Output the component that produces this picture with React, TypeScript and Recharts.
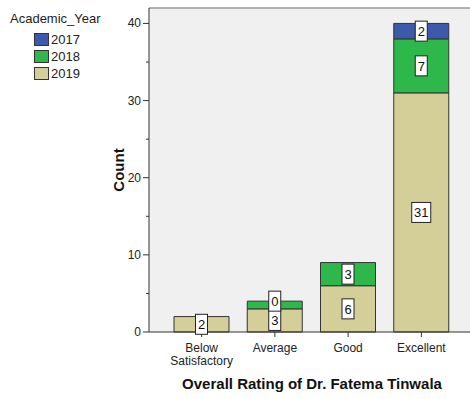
import { Bar, BarChart, CartesianGrid, LabelList, ReferenceLine, XAxis, YAxis } from 'recharts'

const categories = ['Below Satisfactory', 'Average', 'Good', 'Excellent']
const years = ['2017', '2018', '2019']
const counts2017 = [null, 0, null, 2]
const counts2018 = [null, 1, 3, 7]
const counts2019 = [2, 3, 6, 31]
// in the original the "1" of Average/2018 is hidden behind the 0 label
const hiddenLabels2018 = ['Average']
const yTicks = [0, 5, 10, 15, 20, 25, 30, 35, 40]

const colors: Record<string, string> = {
  '2017': '#3D59AB',
  '2018': '#2EB84C',
  '2019': '#D4CF98',
}

const data = categories.map((name, i) => ({
  name,
  y2017: counts2017[i],
  y2018: counts2018[i],
  y2019: counts2019[i],
  lab2018: hiddenLabels2018.includes(name) ? null : counts2018[i],
  // a zero-height 2017 segment gets no rect, so its label is hung on top of the 2018 one
  zero2017: counts2017[i] === 0 ? 0 : null,
}))

const FONT = '"Liberation Sans", Arial, sans-serif'

const ValueBox = ({ x, y, width, height, value, atTop }: any) => {
  if (value === null || value === undefined || value === '') return null
  const cx = x + width / 2
  const cy = atTop ? y : y + height / 2
  const text = String(value)
  const w = text.length * 7 + 5
  return (
    <g>
      <rect x={cx - w / 2} y={cy - 10} width={w} height={20} fill="#fff" stroke="#222" strokeWidth={1} />
      <text x={cx} y={cy + 5} textAnchor="middle" fontSize={13} fontFamily={FONT} fill="#111">
        {text}
      </text>
    </g>
  )
}

const XTick = ({ x, y, payload }: any) => {
  const lines = String(payload.value).split(' ')
  return (
    <g>
      <line x1={x} x2={x} y1={y} y2={y + 5} stroke="#333" />
      {lines.map((l, i) => (
        <text key={i} x={x} y={y + 20 + i * 13} textAnchor="middle" fontSize={12} fontFamily={FONT} fill="#222">
          {l}
        </text>
      ))}
    </g>
  )
}

const YTick = ({ x, y, payload }: any) => {
  const major = payload.value % 10 === 0
  return (
    <g>
      <line x1={x - (major ? 6 : 3)} x2={x} y1={y} y2={y} stroke="#333" />
      {major && (
        <text x={x - 8} y={y + 4} textAnchor="end" fontSize={12} fontFamily={FONT} fill="#222">
          {payload.value}
        </text>
      )}
    </g>
  )
}

function LegendBlock() {
  return (
    <div style={{ position: 'absolute', left: 10, top: 9, fontFamily: FONT, fontSize: 13, color: '#222' }}>
      <div style={{ lineHeight: '20px', marginBottom: 2 }}>Academic_Year</div>
      {years.map((yr) => (
        <div key={yr} style={{ display: 'flex', alignItems: 'center', marginLeft: 24, height: 17 }}>
          <div style={{ width: 13, height: 11, background: colors[yr], border: '1px solid #333' }} />
          <span style={{ marginLeft: 2 }}>{yr}</span>
        </div>
      ))}
    </div>
  )
}

export default function App() {
  return (
    <div style={{ position: 'absolute', left: 0, top: 0, width: 470, height: 399, overflow: 'hidden', background: '#fff' }}>
      <BarChart width={480} height={399} data={data} margin={{ top: 8, right: 5, bottom: 0, left: 0 }}>
        <CartesianGrid horizontal={false} vertical={false} fill="#F0F0F0" />
        <ReferenceLine y={42} stroke="#999" strokeWidth={1.5} />
        <XAxis
          dataKey="name"
          height={67}
          padding={{ left: 16, right: 17 }}
          axisLine={{ stroke: '#333' }}
          tickLine={false}
          tickSize={0}
          tickMargin={0}
          tick={<XTick />}
          interval={0}
          label={{
            value: 'Overall Rating of Dr. Fatema Tinwala',
            position: 'insideBottom',
            offset: 10,
            style: { fontFamily: FONT, fontSize: 15, fontWeight: 'bold', fill: '#111' },
          }}
        />
        <YAxis
          width={149}
          domain={[0, 42]}
          ticks={yTicks}
          axisLine={{ stroke: '#333' }}
          tickLine={false}
          tickSize={0}
          tickMargin={0}
          tick={<YTick />}
          label={{
            value: 'Count',
            angle: -90,
            position: 'insideRight',
            offset: 30,
            style: { fontFamily: FONT, fontSize: 15, fontWeight: 'bold', fill: '#111', textAnchor: 'middle' },
          }}
        />
        <Bar dataKey="y2019" stackId="a" fill={colors['2019']} stroke="#333" barSize={55} isAnimationActive={false}>
          <LabelList dataKey="y2019" content={<ValueBox />} />
        </Bar>
        <Bar dataKey="y2018" stackId="a" fill={colors['2018']} stroke="#333" barSize={55} isAnimationActive={false}>
          <LabelList dataKey="lab2018" content={<ValueBox />} />
          <LabelList dataKey="zero2017" content={<ValueBox atTop />} />
        </Bar>
        <Bar dataKey="y2017" stackId="a" fill={colors['2017']} stroke="#333" barSize={55} isAnimationActive={false}>
          <LabelList dataKey="y2017" content={<ValueBox />} />
        </Bar>
      </BarChart>
      <LegendBlock />
    </div>
  )
}
